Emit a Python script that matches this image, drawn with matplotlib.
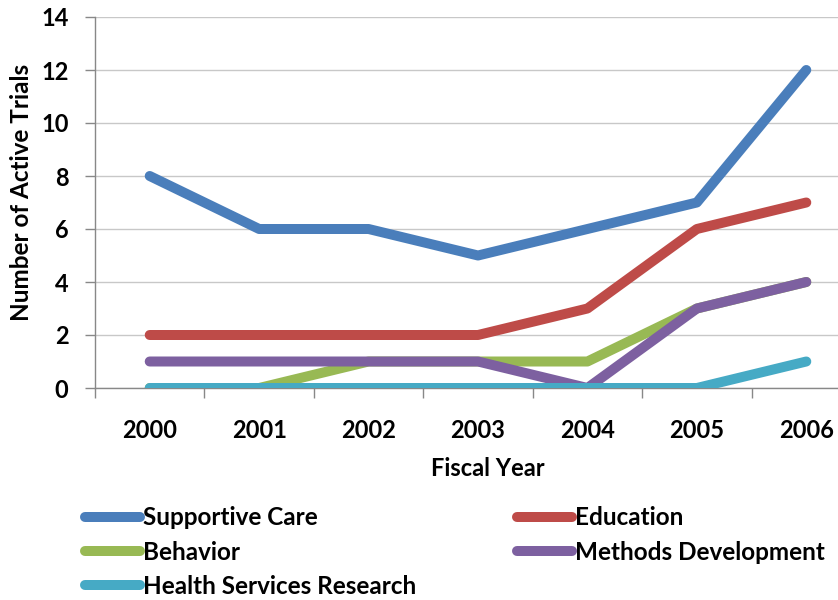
import matplotlib.pyplot as plt
import numpy as np

years = ["2000", "2001", "2002", "2003", "2004", "2005", "2006"]
supportive_care = [8, 6, 6, 5, 6, 7, 12]
education = [2, 2, 2, 2, 3, 6, 7]
behavior = [0, 0, 1, 1, 1, 3, 4]
methods_dev = [1, 1, 1, 1, 0, 3, 4]
health_services = [0, 0, 0, 0, 0, 0, 1]

series = [
    ("Supportive Care", supportive_care, "#4a7ebb"),
    ("Education", education, "#be4b48"),
    ("Behavior", behavior, "#98b954"),
    ("Methods Development", methods_dev, "#7d60a0"),
    ("Health Services Research", health_services, "#46aac5"),
]

plt.rcParams["font.family"] = ["Lato", "DejaVu Sans"]

fig = plt.figure(figsize=(8.38, 6.0), dpi=100)
# axes runs past the right edge, like the cropped original
ax = fig.add_axes([95 / 838, 1 - 388 / 600, 766 / 838, 371 / 600])

x = np.arange(len(years))
lines = {}
for name, vals, col in series:
    (ln,) = ax.plot(x, vals, color=col, lw=7.2, solid_capstyle="round",
                    solid_joinstyle="round", label=name, zorder=3)
    lines[name] = ln

ax.set_xlim(-0.5, len(years) - 0.5)
ax.set_ylim(0, 14)
ax.set_yticks(range(0, 15, 2))
ax.set_xticks(x)
ax.set_xticklabels(years)
ax.set_xticks(np.arange(-0.5, len(years), 1), minor=True)
ax.tick_params(axis="x", which="major", length=0, pad=22)
ax.tick_params(axis="x", which="minor", length=7, color="#888888", width=1)
ax.tick_params(axis="y", length=7, color="#888888", width=1, pad=12)
for lab in ax.get_xticklabels() + ax.get_yticklabels():
    lab.set_fontsize(17)
    lab.set_fontweight("bold")

ax.grid(axis="y", color="#c8c8c8", lw=1)
ax.set_axisbelow(True)
for s in ["top", "right"]:
    ax.spines[s].set_visible(False)
for s in ["left", "bottom"]:
    ax.spines[s].set_color("#888888")
    ax.spines[s].set_linewidth(1)

fig.text(22 / 838, 1 - 192 / 600, "Number of Active Trials", fontsize=17.5,
         fontweight="bold", rotation=90, ha="center", va="center")
fig.text(488 / 838, 1 - 469 / 600, "Fiscal Year", fontsize=17, fontweight="bold",
         ha="center", va="center")

# column-major fill so rows read left to right
order = ["Supportive Care", "Behavior", "Health Services Research",
         "Education", "Methods Development"]
fig.legend([lines[n] for n in order], order, ncol=2, loc="upper left",
           bbox_to_anchor=(73 / 838, 1 - 494 / 600), frameon=False,
           handlelength=2.26, handletextpad=0.12,
           columnspacing=4.15, labelspacing=0.47, borderpad=0,
           prop={"weight": "bold", "size": 17.5})

fig.savefig("out.png", dpi=100, facecolor="white")
